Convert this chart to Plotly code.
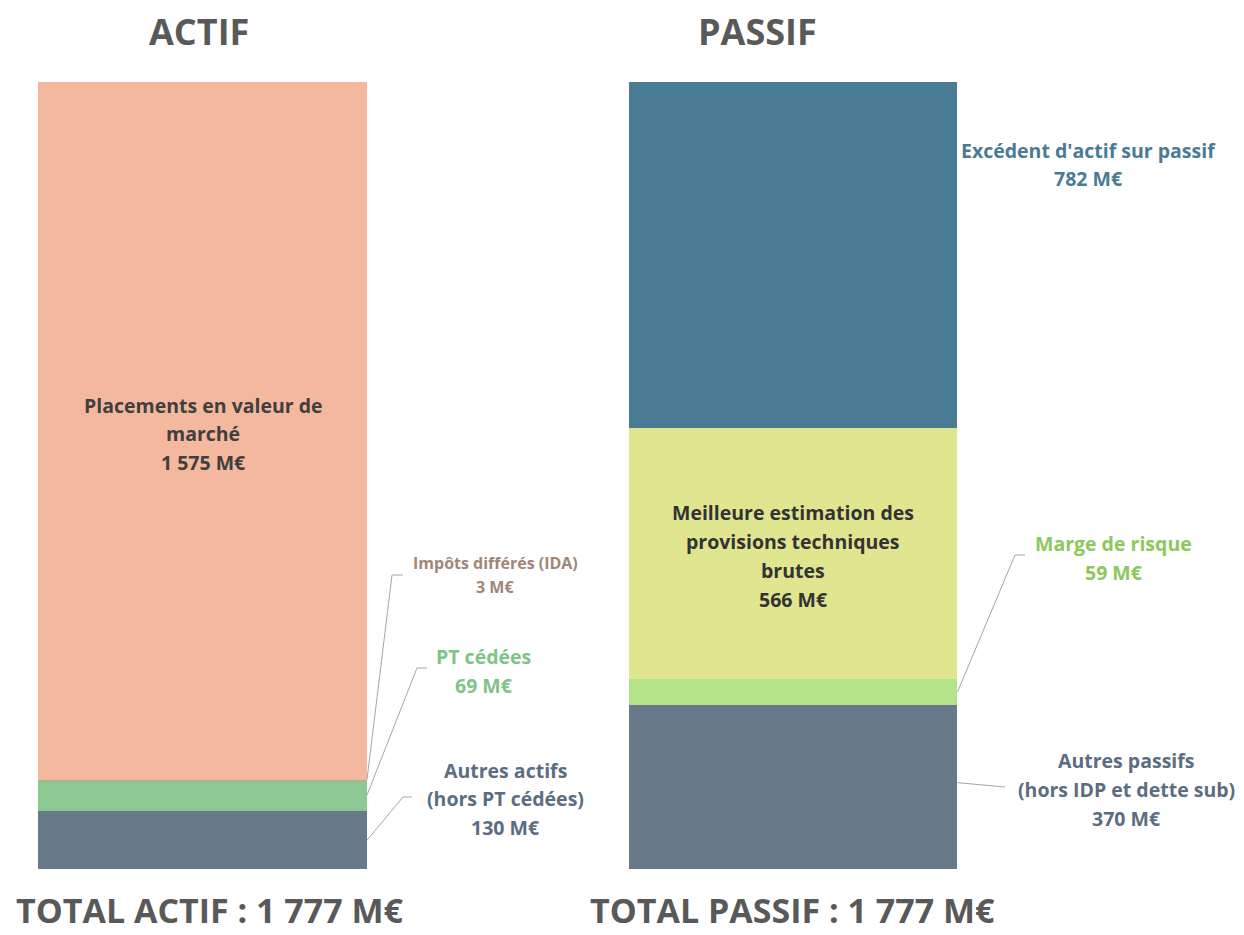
"""Bilan prudentiel : actif / passif en barres empilées."""

import plotly.graph_objects as go

# Données (M€)
actif_labels = ["Autres actifs<br>(hors PT cédées)", "PT cédées", "Impôts différés (IDA)",
                "Placements en valeur de<br>marché"]
actif_values = [130, 69, 3, 1575]
actif_colors = ["#687a8a", "#8cc992", "#c9a08e", "#f4b89e"]

passif_labels = ["Autres passifs<br>(hors IDP et dette sub)", "Marge de risque",
                 "Meilleure estimation des<br>provisions techniques<br>brutes",
                 "Excédent d'actif sur passif"]
passif_values = [370, 59, 566, 782]
passif_colors = ["#687a8a", "#b3e38b", "#e0e58f", "#4a7b95"]

columns = ["ACTIF", "PASSIF"]
totals = [sum(actif_values), sum(passif_values)]

FONT = "'Open Sans', Lato, sans-serif"
BAR_W = 0.557
OFF = 8  # page body margin

# picture pixel -> data / paper helpers (layout only)
def px2x(px):
    return (px - 202.5) / 590.5

def py2y(py):
    return (869 - py) / (787 / 1777)

def paper_x(px):
    return (px - OFF) / (1244 - OFF)

def paper_y(py):
    return (869 - py) / 787

fig = go.Figure()

for col_i, (labels, values, colors) in enumerate(
        [(actif_labels, actif_values, actif_colors),
         (passif_labels, passif_values, passif_colors)]):
    for lab, val, colr in zip(labels, values, colors):
        fig.add_trace(go.Bar(
            x=[col_i], y=[val], width=BAR_W,
            marker=dict(color=colr, line=dict(width=0)),
            name=lab.replace("<br>", " "), showlegend=False,
            hovertemplate=f"{lab.replace('<br>', ' ')}: %{{y}} M€<extra></extra>",
        ))

def fmt(v):
    return f"{v:,}".replace(",", " ") + " M€"

def cum_mid(values, i):
    return sum(values[:i]) + values[i] / 2

# labels: (text, value, colour, x_px, first line y_px, size, line step)
label_specs = [
    (actif_labels[3], actif_values[3], "#3f3f3f", 203, 405, 19.5, 28.5),
    (actif_labels[2], actif_values[2], "#a08676", 495, 563, 16, 24),
    (actif_labels[1], actif_values[1], "#7fc487", 483, 656, 19.5, 29),
    (actif_labels[0], actif_values[0], "#5b6d80", 505, 770, 19.5, 28.5),
    (passif_labels[3], passif_values[3], "#4a7b95", 1088, 150, 19.5, 28.5),
    (passif_labels[2], passif_values[2], "#333333", 793, 512, 19.5, 29.3),
    (passif_labels[1], passif_values[1], "#8cc85a", 1113, 543, 19.5, 29),
    (passif_labels[0], passif_values[0], "#5b6d80", 1126, 760, 19.5, 29),
]
for text, val, colr, xp, yp, size, step in label_specs:
    lines = text.split("<br>") + [fmt(val)]
    for k, line in enumerate(lines):
        fig.add_annotation(
            x=px2x(xp), y=py2y(yp + k * step), xref="x", yref="y",
            text=f"<b>{line}</b>", showarrow=False,
            font=dict(family=FONT, size=size, color=colr),
            align="center", xanchor="center", yanchor="middle",
        )

# leader lines: (column, anchor y, bend px, end px)
edge = BAR_W / 2
leaders = [
    (0, sum(actif_values[:3]) - 1, (392, 575), (403, 575)),
    (0, cum_mid(actif_values, 1) + 2, (417, 668), (427, 668)),
    (0, cum_mid(actif_values, 0), (403, 797), (412, 797)),
    (1, cum_mid(passif_values, 1), (1015, 555), (1025, 555)),
    (1, cum_mid(passif_values, 0) + 10, (1005, 787), (1005, 787)),
]
for col_i, y_anchor, bend, end in leaders:
    fig.add_trace(go.Scatter(
        x=[col_i + edge, px2x(bend[0]), px2x(end[0])],
        y=[y_anchor, py2y(bend[1]), py2y(end[1])],
        mode="lines", line=dict(color="#a6a6a6", width=1),
        showlegend=False, hoverinfo="skip",
    ))

# titles and totals
for name, xp in zip(columns, [199, 758]):
    fig.add_annotation(
        x=paper_x(xp), y=paper_y(31), xref="paper", yref="paper",
        text=f"<b>{name}</b>", showarrow=False,
        font=dict(family=FONT, size=36, color="#595959"),
        xanchor="center", yanchor="middle",
    )
for i, (name, xp) in enumerate(zip(columns, [210, 792])):
    fig.add_annotation(
        x=paper_x(xp), y=paper_y(934), xref="paper", yref="paper",
        text=f"<b>TOTAL {name} : {fmt(totals[i])}</b>",
        showarrow=False, font=dict(family=FONT, size=34, color="#595959"),
        xanchor="center", yanchor="bottom", borderpad=0,
    )

fig.update_layout(
    width=1244 - OFF, height=935 - OFF,
    barmode="stack",
    paper_bgcolor="white", plot_bgcolor="white",
    margin=dict(l=0, r=0, t=82 - OFF, b=66),
    xaxis=dict(range=[px2x(OFF), px2x(1244)], visible=False, fixedrange=True),
    yaxis=dict(range=[0, 1777], visible=False, fixedrange=True),
    bargap=0,
)

fig.write_html("out.html")
